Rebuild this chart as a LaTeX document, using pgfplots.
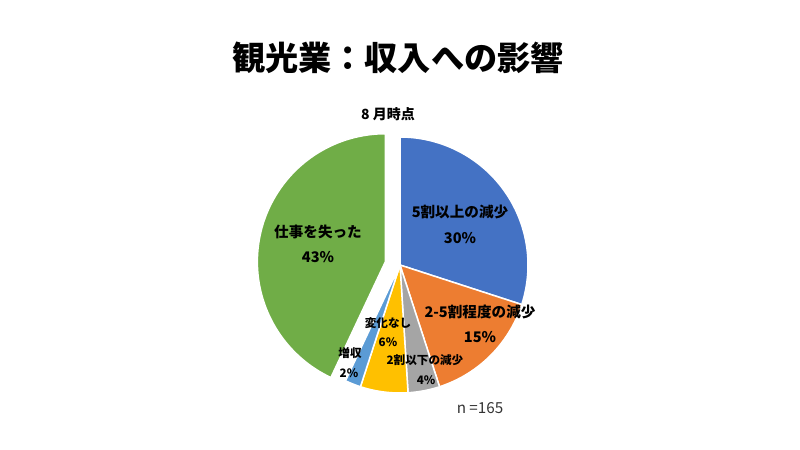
\documentclass[border=0pt]{standalone}
\usepackage{pgfplots}
\pgfplotsset{compat=1.18}
\usepackage{pgfplotstable}
\usepackage{fontspec}
\setmainfont{Noto Sans CJK JP}
\definecolor{cA}{HTML}{4472C4}
\definecolor{cB}{HTML}{ED7D31}
\definecolor{cC}{HTML}{A5A5A5}
\definecolor{cD}{HTML}{FFC000}
\definecolor{cE}{HTML}{5B9BD5}
\definecolor{cF}{HTML}{70AD47}
\pgfplotstableread{
label value
A 30
B 15
C 4
D 6
E 2
F 43
}\piedata
\begin{document}%
\begin{tikzpicture}
\pgfplotstablegetelem{0}{value}\of\piedata\let\vA\pgfplotsretval
\pgfplotstablegetelem{1}{value}\of\piedata\let\vB\pgfplotsretval
\pgfplotstablegetelem{2}{value}\of\piedata\let\vC\pgfplotsretval
\pgfplotstablegetelem{3}{value}\of\piedata\let\vD\pgfplotsretval
\pgfplotstablegetelem{4}{value}\of\piedata\let\vE\pgfplotsretval
\pgfplotstablegetelem{5}{value}\of\piedata\let\vF\pgfplotsretval
\pgfmathsetmacro\aA{0}
\pgfmathsetmacro\aB{\aA+3.6*\vA}
\pgfmathsetmacro\aC{\aB+3.6*\vB}
\pgfmathsetmacro\aD{\aC+3.6*\vC}
\pgfmathsetmacro\aE{\aD+3.6*\vD}
\pgfmathsetmacro\aF{\aE+3.6*\vE}
\pgfmathsetmacro\aG{\aF+3.6*\vF}
\pgfmathsetmacro\aM{(\aF+\aG)/2}
\pgfmathsetmacro\gx{400+15*sin(\aM)}
\pgfmathsetmacro\gy{265-15*cos(\aM)}
\begin{axis}[
  width=400pt, height=225pt, scale only axis,
  xmin=0, xmax=800, ymin=0, ymax=450, y dir=reverse,
  hide axis, clip=false,
]
\path[fill=white] (rel axis cs:0,0) rectangle (rel axis cs:1,1);
\addplot[fill=cA, draw=white, line width=0.75pt, domain=\aA:\aB, samples=60, variable=\t]
  ({400+128*sin(\t)},{265-128*cos(\t)}) -- (axis cs:400,265) -- cycle;
\addplot[fill=cB, draw=white, line width=0.75pt, domain=\aB:\aC, samples=40, variable=\t]
  ({400+128*sin(\t)},{265-128*cos(\t)}) -- (axis cs:400,265) -- cycle;
\addplot[fill=cC, draw=white, line width=0.75pt, domain=\aC:\aD, samples=15, variable=\t]
  ({400+128*sin(\t)},{265-128*cos(\t)}) -- (axis cs:400,265) -- cycle;
\addplot[fill=cD, draw=white, line width=0.75pt, domain=\aD:\aE, samples=15, variable=\t]
  ({400+128*sin(\t)},{265-128*cos(\t)}) -- (axis cs:400,265) -- cycle;
\addplot[fill=cE, draw=white, line width=0.75pt, domain=\aE:\aF, samples=10, variable=\t]
  ({400+128*sin(\t)},{265-128*cos(\t)}) -- (axis cs:400,265) -- cycle;
\addplot[fill=cF, draw=white, line width=0.75pt, domain=\aF:\aG, samples=80, variable=\t]
  ({\gx+128*sin(\t)},{\gy-128*cos(\t)}) -- (axis cs:\gx,\gy) -- cycle;
% titles
\node[font=\fontsize{16.6pt}{20pt}\selectfont\bfseries] at (axis cs:398,58) {観光業：収入への影響};
\node[font=\fontsize{7pt}{8pt}\selectfont\bfseries] at (axis cs:388,114) {8 月時点};
% labels
\def\big{\fontsize{7.3pt}{8pt}\selectfont\bfseries}
\def\sml{\fontsize{5.8pt}{7pt}\selectfont\bfseries}
\node[font=\big] at (axis cs:460,212) {5割以上の減少};
\node[font=\big] at (axis cs:460,238) {30\%};
\node[font=\big] at (axis cs:480,312) {2-5割程度の減少};
\node[font=\big] at (axis cs:480,337) {15\%};
\node[font=\sml] at (axis cs:425,360) {2割以下の減少};
\node[font=\sml] at (axis cs:426,380) {4\%};
\node[font=\sml] at (axis cs:388,323) {変化なし};
\node[font=\sml] at (axis cs:388,342) {6\%};
\node[font=\sml] at (axis cs:350,353) {増収};
\node[font=\sml] at (axis cs:349,373) {2\%};
\node[font=\big] at (axis cs:318,232) {仕事を失った};
\node[font=\big] at (axis cs:318,257) {43\%};
\node[font=\fontsize{7.6pt}{8pt}\selectfont, text=black!80] at (axis cs:480,408) {n =165};
\end{axis}
\end{tikzpicture}%
\end{document}
